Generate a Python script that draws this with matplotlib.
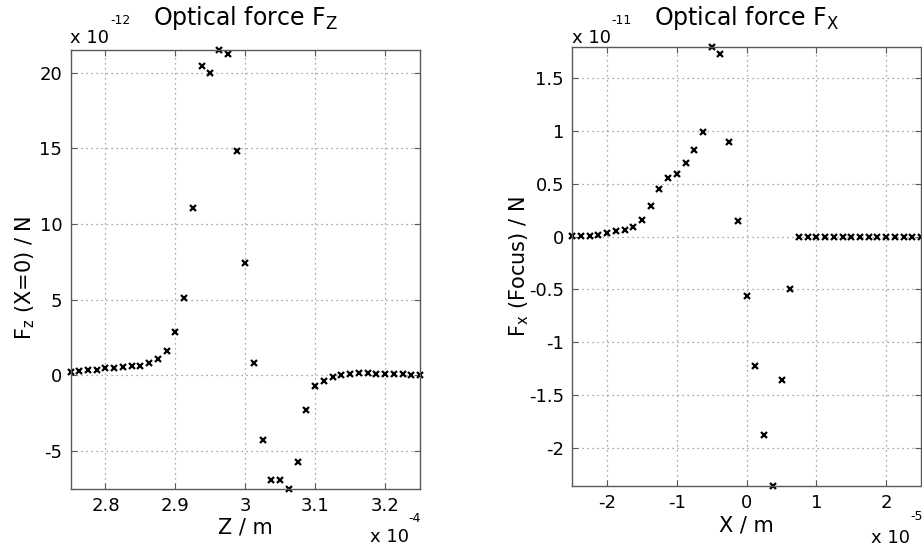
import numpy as np
import matplotlib
matplotlib.use("Agg")
import matplotlib.pyplot as plt

# Axial force F_z along the optical axis (Z in units of 1e-4 m, force in units of 1e-12 N)
z_pos = [2.75, 2.7625, 2.775, 2.7875, 2.8, 2.8125, 2.825, 2.8375, 2.85, 2.8625,
         2.875, 2.8875, 2.9, 2.9125, 2.925, 2.9375, 2.95, 2.9625, 2.975, 2.9875,
         3.0, 3.0125, 3.025, 3.0375, 3.05, 3.0625, 3.075, 3.0875, 3.1, 3.1125,
         3.125, 3.1375, 3.15, 3.1625, 3.175, 3.1875, 3.2, 3.2125, 3.225, 3.2375, 3.25]
fz_vals = [0.20, 0.25, 0.33, 0.35, 0.44, 0.44, 0.53, 0.58, 0.62, 0.80,
           1.08, 1.57, 2.85, 5.10, 11.09, 20.44, 20.02, 21.55, 21.24, 14.86,
           7.42, 0.80, -4.30, -6.95, -6.95, -7.52, -5.78, -2.34, -0.75, -0.40,
           -0.11, 0.00, 0.07, 0.11, 0.11, 0.04, 0.07, 0.04, 0.09, 0.02, 0.00]

# Transverse force F_x in the focal plane (X in units of 1e-5 m, force in units of 1e-11 N)
x_pos = [-2.5, -2.375, -2.25, -2.125, -2.0, -1.875, -1.75, -1.625, -1.5, -1.375,
         -1.25, -1.125, -1.0, -0.875, -0.75, -0.625, -0.5, -0.375, -0.25, -0.125,
         0.0, 0.125, 0.25, 0.375, 0.5, 0.625, 0.75, 0.875, 1.0, 1.125,
         1.25, 1.375, 1.5, 1.625, 1.75, 1.875, 2.0, 2.125, 2.25, 2.375, 2.5]
fx_vals = [0.007, 0.010, 0.007, 0.016, 0.032, 0.050, 0.063, 0.095, 0.155, 0.290,
           0.450, 0.556, 0.594, 0.695, 0.818, 0.994, 1.800, 1.733, 0.894, 0.146,
           -0.560, -1.224, -1.880, -2.360, -1.357, -0.498, 0.0, 0.0, 0.0, 0.0,
           0.0, 0.0, 0.0, 0.0, 0.0, 0.0, 0.0, 0.0, 0.0, 0.0, 0.0]

z_ticks = [2.8, 2.9, 3.0, 3.1, 3.2]
z_ticklabels = ["2.8", "2.9", "3", "3.1", "3.2"]
fz_ticks = [-5, 0, 5, 10, 15, 20]
fz_ticklabels = ["-5", "0", "5", "10", "15", "20"]
x_ticks = [-2, -1, 0, 1, 2]
x_ticklabels = ["-2", "-1", "0", "1", "2"]
fx_ticks = [-2, -1.5, -1, -0.5, 0, 0.5, 1, 1.5]
fx_ticklabels = ["-2", "-1.5", "-1", "-0.5", "0", "0.5", "1", "1.5"]

plt.rcParams["font.family"] = ["DejaVu Sans"]

W, H = 922, 552
fig = plt.figure(figsize=(W / 100, H / 100), dpi=100)


def px_axes(x0, x1, y0, y1):
    return fig.add_axes([x0 / W, 1 - y1 / H, (x1 - x0) / W, (y1 - y0) / H])


def ftext(x, y, s, **kw):
    fig.text(x / W, 1 - y / H, s, **kw)


def style(ax):
    for s in ax.spines.values():
        s.set_color("0.35")
        s.set_linewidth(1.0)
    ax.tick_params(direction="in", length=4, width=0.8, color="0.35",
                   top=True, right=True, labelsize=13, pad=6)
    ax.grid(True, linestyle=(0, (1, 3)), color="0.55", linewidth=0.9)
    ax.set_axisbelow(True)


# Left panel: F_z
ax1 = px_axes(70.5, 420, 49.5, 488.7)
style(ax1)
ax1.plot(z_pos, fz_vals, linestyle="none", marker="x", color="black",
         markersize=4, markeredgewidth=1.6, clip_on=False)
ax1.set_xlim(min(z_pos), max(z_pos))
ax1.set_ylim(min(fz_vals), max(fz_vals))
ax1.set_xticks(z_ticks)
ax1.set_xticklabels(z_ticklabels)
ax1.set_yticks(fz_ticks)
ax1.set_yticklabels(fz_ticklabels)
ax1.set_xlabel("Z / m", fontsize=15, labelpad=2)

# Right panel: F_x
ax2 = px_axes(572.3, 921, 46.5, 486)
style(ax2)
ax2.plot(x_pos, fx_vals, linestyle="none", marker="x", color="black",
         markersize=4, markeredgewidth=1.6, clip_on=False)
ax2.set_xlim(min(x_pos), max(x_pos))
ax2.set_ylim(min(fx_vals), max(fx_vals))
ax2.set_xticks(x_ticks)
ax2.set_xticklabels(x_ticklabels)
ax2.set_yticks(fx_ticks)
ax2.set_yticklabels(fx_ticklabels)
ax2.set_xlabel("X / m", fontsize=15, labelpad=2)

# Y-axis labels
ftext(25, 278, r"F$_\mathregular{z}$ (X=0) / N", fontsize=15, rotation=90,
      ha="center", va="center")
ftext(519.5, 267, r"F$_\mathregular{x}$ (Focus) / N", fontsize=15, rotation=90,
      ha="center", va="center")

# Titles
ftext(245, 25, r"Optical force F$_\mathregular{Z}$", fontsize=17, ha="center", va="baseline")
ftext(746.5, 25, r"Optical force F$_\mathregular{X}$", fontsize=17, ha="center", va="baseline")

# Axis multipliers
ftext(70, 43, "x 10", fontsize=13, ha="left", va="baseline")
ftext(110, 24, "-12", fontsize=9, ha="left", va="baseline")
ftext(572, 43, "x 10", fontsize=13, ha="left", va="baseline")
ftext(611, 24, "-11", fontsize=9, ha="left", va="baseline")
ftext(370, 542, "x 10", fontsize=13, ha="left", va="baseline")
ftext(408, 522, "-4", fontsize=9, ha="left", va="baseline")
ftext(871, 543, "x 10", fontsize=13, ha="left", va="baseline")
ftext(910, 520, "-5", fontsize=9, ha="left", va="baseline")

fig.savefig("out.png", dpi=100, facecolor="white")
